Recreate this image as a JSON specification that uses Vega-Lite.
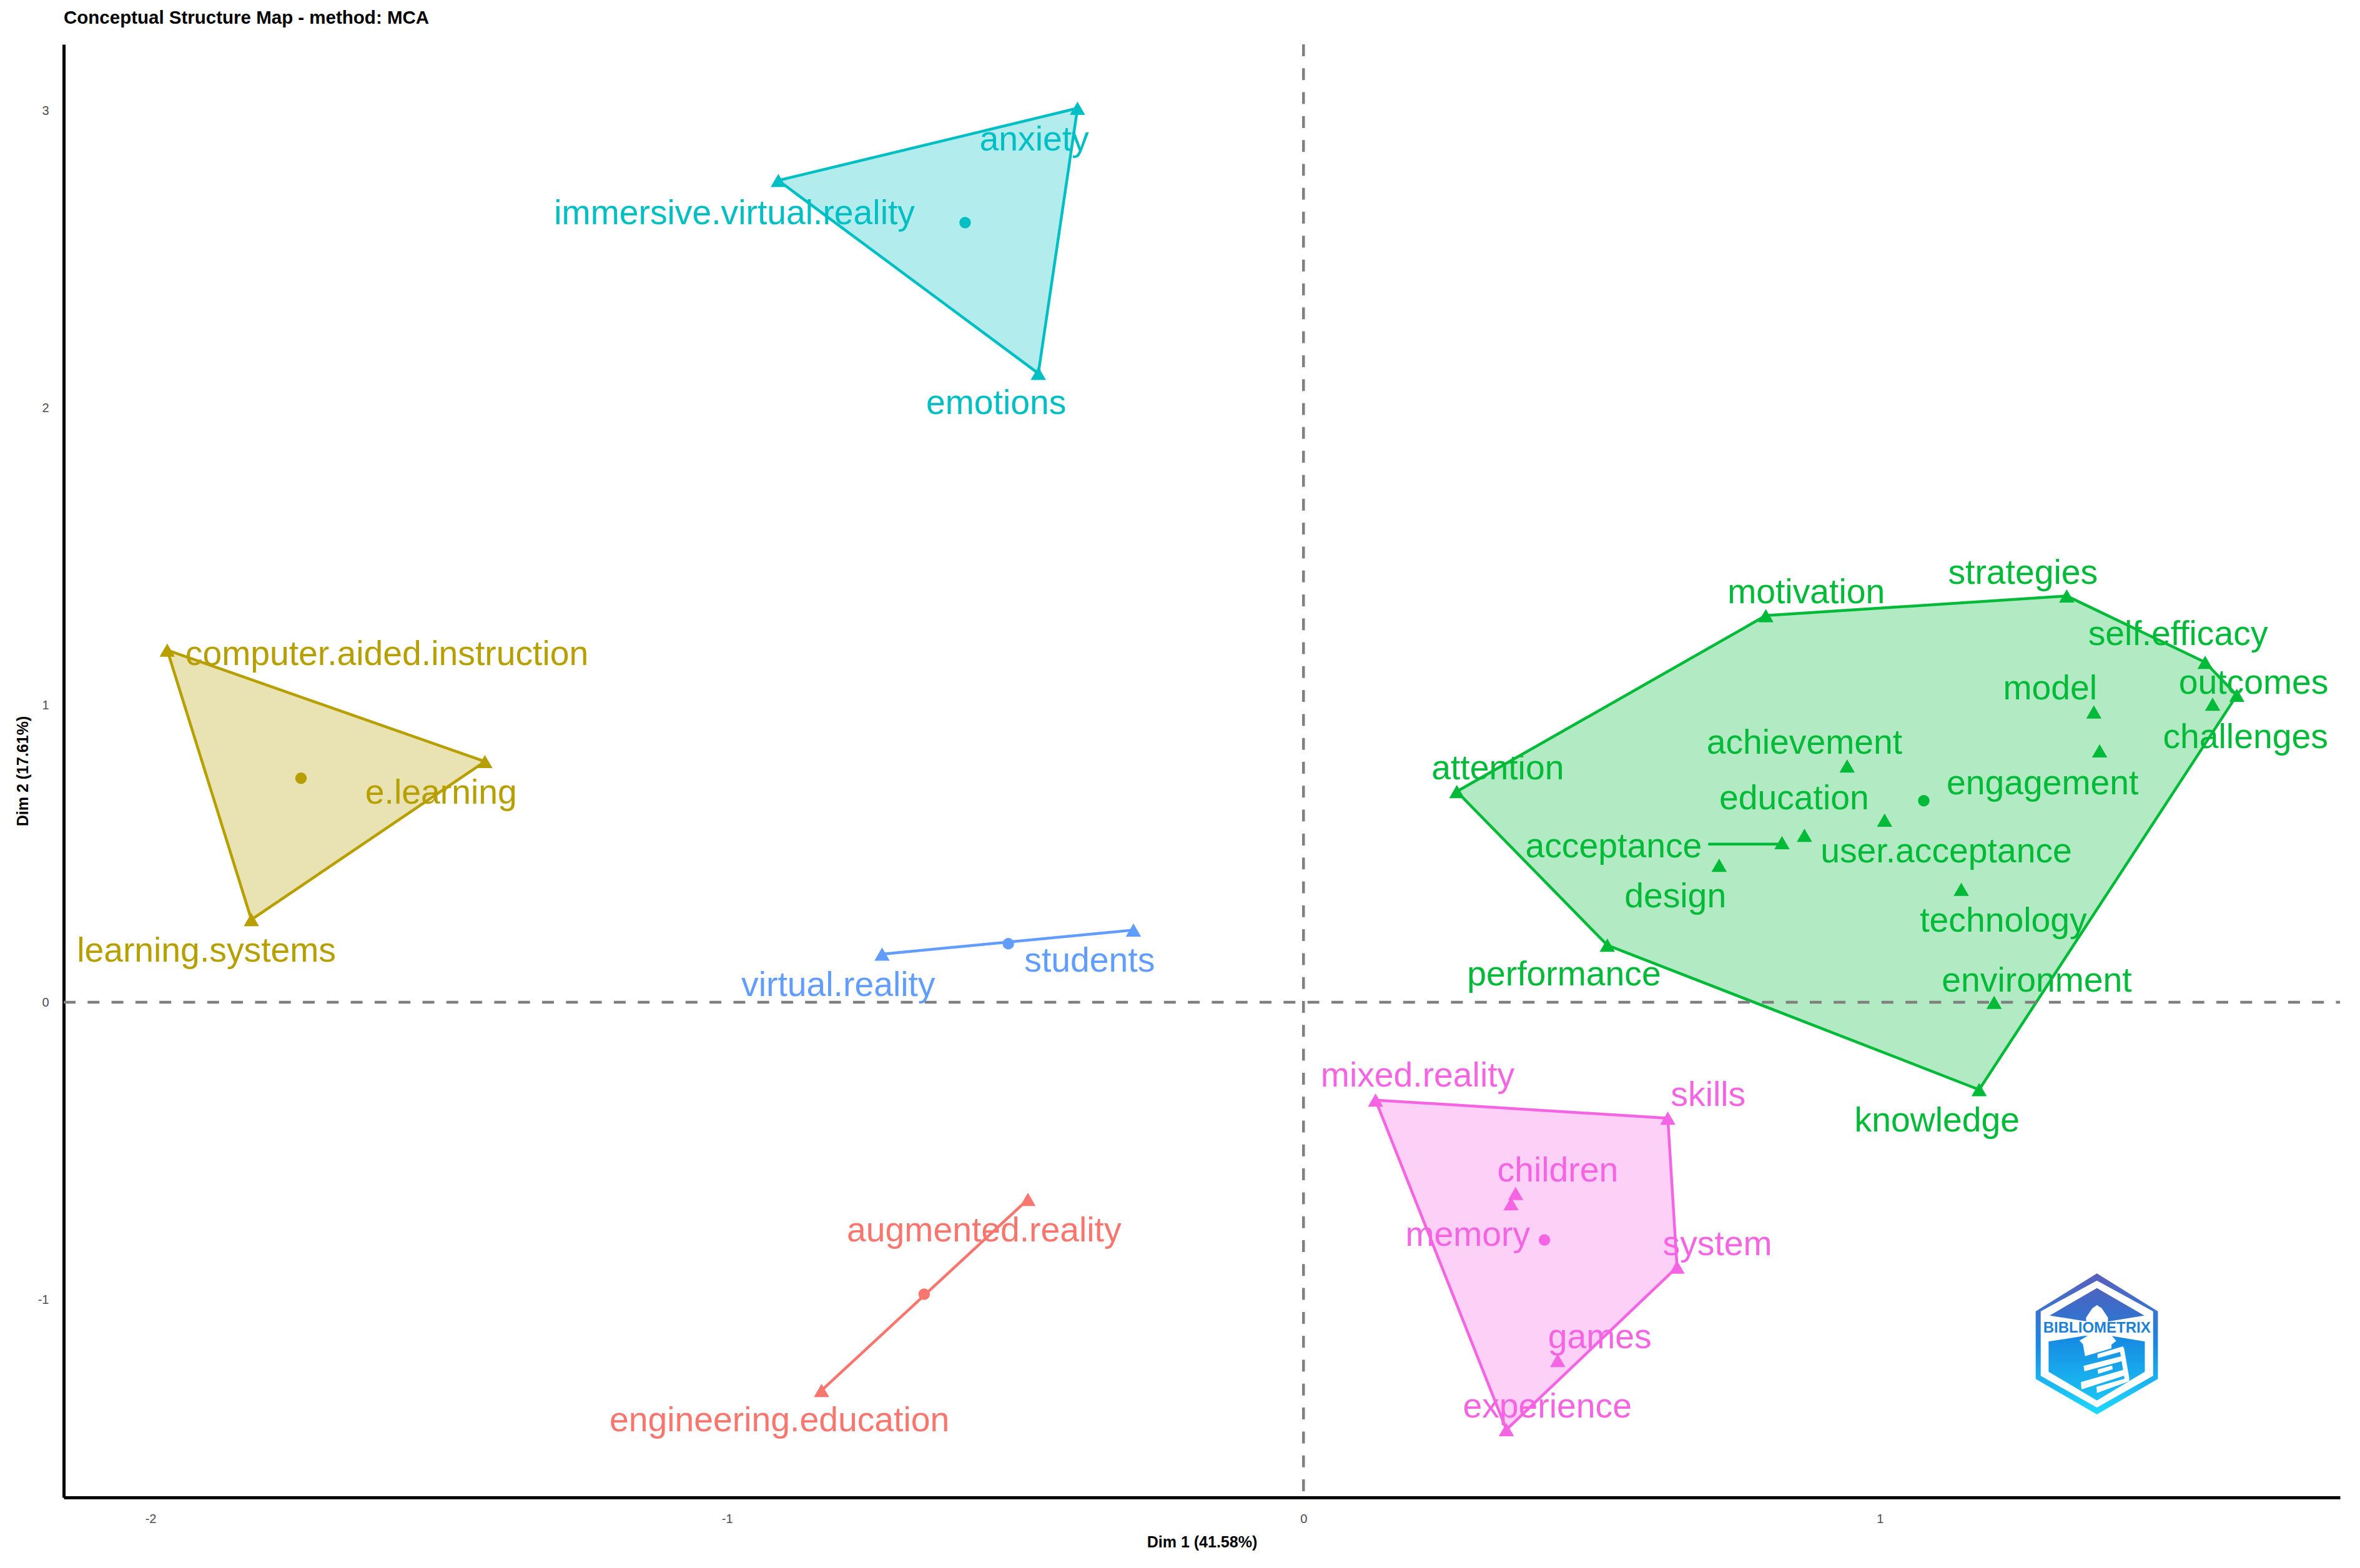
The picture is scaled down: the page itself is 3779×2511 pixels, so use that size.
{
  "$schema": "https://vega.github.io/schema/vega-lite/v6.json",
  "width": 3645,
  "height": 2327,
  "autosize": {"type": "none"},
  "padding": {"left": 102, "top": 71, "right": 32, "bottom": 113},
  "background": "white",
  "title": {
    "text": "Conceptual Structure Map - method: MCA",
    "anchor": "start",
    "frame": "group",
    "font": "Liberation Sans",
    "fontSize": 29.5,
    "fontWeight": "bold",
    "color": "black",
    "offset": 24
  },
  "config": {
    "view": {"stroke": null},
    "axis": {
      "grid": false,
      "ticks": false,
      "domainColor": "black",
      "domainWidth": 5,
      "labelColor": "#4d4d4d",
      "labelFont": "Liberation Sans",
      "labelFontSize": 20,
      "titleFont": "Liberation Sans",
      "titleFontSize": 25,
      "titleFontWeight": "bold",
      "titleColor": "black"
    }
  },
  "datasets": {
    "terms": [
      {"term": "anxiety", "group": "cyan", "x": -0.392, "y": 3.008, "label_x": -0.467, "label_y": 2.906},
      {"term": "immersive.virtual.reality", "group": "cyan", "x": -0.911, "y": 2.765, "label_x": -0.987, "label_y": 2.658},
      {"term": "emotions", "group": "cyan", "x": -0.46, "y": 2.116, "label_x": -0.533, "label_y": 2.02},
      {"term": "computer.aided.instruction", "group": "olive", "x": -1.971, "y": 1.185, "label_x": -1.59, "label_y": 1.175},
      {"term": "e.learning", "group": "olive", "x": -1.42, "y": 0.81, "label_x": -1.496, "label_y": 0.709},
      {"term": "learning.systems", "group": "olive", "x": -1.825, "y": 0.278, "label_x": -1.903, "label_y": 0.177},
      {"term": "virtual.reality", "group": "blue", "x": -0.731, "y": 0.162, "label_x": -0.807, "label_y": 0.061},
      {"term": "students", "group": "blue", "x": -0.295, "y": 0.243, "label_x": -0.371, "label_y": 0.142},
      {"term": "augmented.reality", "group": "red", "x": -0.478, "y": -0.663, "label_x": -0.554, "label_y": -0.765},
      {"term": "engineering.education", "group": "red", "x": -0.836, "y": -1.306, "label_x": -0.909, "label_y": -1.403},
      {"term": "mixed.reality", "group": "pink", "x": 0.125, "y": -0.329, "label_x": 0.198, "label_y": -0.243},
      {"term": "skills", "group": "pink", "x": 0.632, "y": -0.39, "label_x": 0.702, "label_y": -0.309},
      {"term": "children", "group": "pink", "x": 0.368, "y": -0.643, "label_x": 0.441, "label_y": -0.562},
      {"term": "memory", "group": "pink", "x": 0.36, "y": -0.678, "label_x": 0.285, "label_y": -0.78},
      {"term": "system", "group": "pink", "x": 0.648, "y": -0.891, "label_x": 0.718, "label_y": -0.81},
      {"term": "games", "group": "pink", "x": 0.441, "y": -1.205, "label_x": 0.514, "label_y": -1.124},
      {"term": "experience", "group": "pink", "x": 0.352, "y": -1.438, "label_x": 0.423, "label_y": -1.357},
      {"term": "attention", "group": "green", "x": 0.266, "y": 0.709, "label_x": 0.337, "label_y": 0.79},
      {"term": "motivation", "group": "green", "x": 0.802, "y": 1.301, "label_x": 0.872, "label_y": 1.382},
      {"term": "strategies", "group": "green", "x": 1.324, "y": 1.367, "label_x": 1.248, "label_y": 1.448},
      {"term": "self.efficacy", "group": "green", "x": 1.564, "y": 1.144, "label_x": 1.517, "label_y": 1.241},
      {"term": "outcomes", "group": "green", "x": 1.619, "y": 1.033, "label_x": 1.648, "label_y": 1.078},
      {"term": "challenges", "group": "green", "x": 1.577, "y": 1.003, "label_x": 1.634, "label_y": 0.896},
      {"term": "model", "group": "green", "x": 1.371, "y": 0.977, "label_x": 1.295, "label_y": 1.058},
      {"term": "engagement", "group": "green", "x": 1.381, "y": 0.846, "label_x": 1.282, "label_y": 0.739},
      {"term": "achievement", "group": "green", "x": 0.943, "y": 0.795, "label_x": 0.869, "label_y": 0.876},
      {"term": "education", "group": "green", "x": 1.008, "y": 0.613, "label_x": 0.851, "label_y": 0.689},
      {"term": "user.acceptance", "group": "green", "x": 0.869, "y": 0.562, "label_x": 1.115, "label_y": 0.511},
      {"term": "acceptance", "group": "green", "x": 0.83, "y": 0.537, "label_x": 0.538, "label_y": 0.527},
      {"term": "design", "group": "green", "x": 0.721, "y": 0.461, "label_x": 0.645, "label_y": 0.359},
      {"term": "technology", "group": "green", "x": 1.141, "y": 0.38, "label_x": 1.214, "label_y": 0.278},
      {"term": "performance", "group": "green", "x": 0.527, "y": 0.192, "label_x": 0.452, "label_y": 0.096},
      {"term": "environment", "group": "green", "x": 1.198, "y": 0, "label_x": 1.272, "label_y": 0.076},
      {"term": "knowledge", "group": "green", "x": 1.172, "y": -0.294, "label_x": 1.099, "label_y": -0.395}
    ],
    "centroids": [
      {"group": "cyan", "x": -0.587, "y": 2.623},
      {"group": "olive", "x": -1.739, "y": 0.754},
      {"group": "blue", "x": -0.512, "y": 0.197},
      {"group": "red", "x": -0.658, "y": -0.982},
      {"group": "pink", "x": 0.418, "y": -0.8},
      {"group": "green", "x": 1.076, "y": 0.678}
    ],
    "hulls": [
      {"group": "cyan", "step": 1, "x": -0.911, "y": 2.765},
      {"group": "cyan", "step": 2, "x": -0.392, "y": 3.008},
      {"group": "cyan", "step": 3, "x": -0.46, "y": 2.116},
      {"group": "cyan", "step": 4, "x": -0.911, "y": 2.765},
      {"group": "olive", "step": 1, "x": -1.971, "y": 1.185},
      {"group": "olive", "step": 2, "x": -1.42, "y": 0.81},
      {"group": "olive", "step": 3, "x": -1.825, "y": 0.278},
      {"group": "olive", "step": 4, "x": -1.971, "y": 1.185},
      {"group": "blue", "step": 1, "x": -0.731, "y": 0.162},
      {"group": "blue", "step": 2, "x": -0.295, "y": 0.243},
      {"group": "red", "step": 1, "x": -0.478, "y": -0.663},
      {"group": "red", "step": 2, "x": -0.836, "y": -1.306},
      {"group": "pink", "step": 1, "x": 0.125, "y": -0.329},
      {"group": "pink", "step": 2, "x": 0.632, "y": -0.39},
      {"group": "pink", "step": 3, "x": 0.648, "y": -0.891},
      {"group": "pink", "step": 4, "x": 0.352, "y": -1.438},
      {"group": "pink", "step": 5, "x": 0.125, "y": -0.329},
      {"group": "green", "step": 1, "x": 0.266, "y": 0.709},
      {"group": "green", "step": 2, "x": 0.802, "y": 1.301},
      {"group": "green", "step": 3, "x": 1.324, "y": 1.367},
      {"group": "green", "step": 4, "x": 1.564, "y": 1.144},
      {"group": "green", "step": 5, "x": 1.619, "y": 1.033},
      {"group": "green", "step": 6, "x": 1.172, "y": -0.294},
      {"group": "green", "step": 7, "x": 0.527, "y": 0.192},
      {"group": "green", "step": 8, "x": 0.266, "y": 0.709}
    ],
    "logo_outer": [
      {"step": 1, "x": 1.3763, "y": -0.9125},
      {"step": 2, "x": 1.4821, "y": -1.0399},
      {"step": 3, "x": 1.4821, "y": -1.2675},
      {"step": 4, "x": 1.3763, "y": -1.3866},
      {"step": 5, "x": 1.2701, "y": -1.2675},
      {"step": 6, "x": 1.2701, "y": -1.0399}
    ],
    "logo_white": [
      {"step": 1, "x": 1.3763, "y": -0.9363},
      {"step": 2, "x": 1.4738, "y": -1.0399},
      {"step": 3, "x": 1.4738, "y": -1.257},
      {"step": 4, "x": 1.3763, "y": -1.3634},
      {"step": 5, "x": 1.2788, "y": -1.257},
      {"step": 6, "x": 1.2788, "y": -1.0399}
    ],
    "logo_top": [
      {"step": 1, "x": 1.3763, "y": -0.9615},
      {"step": 2, "x": 1.4586, "y": -1.0539},
      {"step": 3, "x": 1.3973, "y": -1.0735},
      {"step": 4, "x": 1.3575, "y": -1.0735},
      {"step": 5, "x": 1.2943, "y": -1.0539}
    ],
    "logo_bottom": [
      {"step": 1, "x": 1.2925, "y": -1.1415},
      {"step": 2, "x": 1.3539, "y": -1.1225},
      {"step": 3, "x": 1.4009, "y": -1.1225},
      {"step": 4, "x": 1.4594, "y": -1.1415},
      {"step": 5, "x": 1.4594, "y": -1.243},
      {"step": 6, "x": 1.3763, "y": -1.3396},
      {"step": 7, "x": 1.2925, "y": -1.243}
    ],
    "logo_tower": [
      {"part": "dome", "step": 1, "x": 1.3763, "y": -1.0189},
      {"part": "dome", "step": 2, "x": 1.3846, "y": -1.0294},
      {"part": "dome", "step": 3, "x": 1.3955, "y": -1.0609},
      {"part": "dome", "step": 4, "x": 1.3955, "y": -1.0784},
      {"part": "dome", "step": 5, "x": 1.3575, "y": -1.0784},
      {"part": "dome", "step": 6, "x": 1.3575, "y": -1.0609},
      {"part": "dome", "step": 7, "x": 1.3684, "y": -1.0294},
      {"part": "cap", "step": 1, "x": 1.346, "y": -1.138},
      {"part": "cap", "step": 2, "x": 1.3666, "y": -1.1155},
      {"part": "cap", "step": 3, "x": 1.3991, "y": -1.1155},
      {"part": "cap", "step": 4, "x": 1.4099, "y": -1.1394},
      {"part": "cap", "step": 5, "x": 1.4016, "y": -1.152},
      {"part": "cap", "step": 6, "x": 1.4016, "y": -1.1646},
      {"part": "cap", "step": 7, "x": 1.3557, "y": -1.1905},
      {"part": "cap", "step": 8, "x": 1.3521, "y": -1.1506},
      {"part": "bar1", "step": 1, "x": 1.3774, "y": -1.1835},
      {"part": "bar1", "step": 2, "x": 1.4218, "y": -1.1576},
      {"part": "bar1", "step": 3, "x": 1.4232, "y": -1.173},
      {"part": "bar1", "step": 4, "x": 1.3774, "y": -1.1975},
      {"part": "rail", "step": 1, "x": 1.4153, "y": -1.1625},
      {"part": "rail", "step": 2, "x": 1.4232, "y": -1.1625},
      {"part": "rail", "step": 3, "x": 1.4327, "y": -1.2675},
      {"part": "rail", "step": 4, "x": 1.4243, "y": -1.2675},
      {"part": "bar2", "step": 1, "x": 1.3532, "y": -1.2234},
      {"part": "bar2", "step": 2, "x": 1.4197, "y": -1.1905},
      {"part": "bar2", "step": 3, "x": 1.4218, "y": -1.2066},
      {"part": "bar2", "step": 4, "x": 1.3547, "y": -1.2416},
      {"part": "bar3", "step": 1, "x": 1.3774, "y": -1.236},
      {"part": "bar3", "step": 2, "x": 1.4027, "y": -1.222},
      {"part": "bar3", "step": 3, "x": 1.4038, "y": -1.2346},
      {"part": "bar3", "step": 4, "x": 1.3785, "y": -1.25},
      {"part": "bar4", "step": 1, "x": 1.3485, "y": -1.278},
      {"part": "bar4", "step": 2, "x": 1.4261, "y": -1.2346},
      {"part": "bar4", "step": 3, "x": 1.4279, "y": -1.2535},
      {"part": "bar4", "step": 4, "x": 1.3496, "y": -1.3025},
      {"part": "bar5", "step": 1, "x": 1.3756, "y": -1.2934},
      {"part": "bar5", "step": 2, "x": 1.4316, "y": -1.2626},
      {"part": "bar5", "step": 3, "x": 1.4327, "y": -1.2745},
      {"part": "bar5", "step": 4, "x": 1.3763, "y": -1.3144}
    ]
  },
  "encoding": {
    "x": {
      "field": "x",
      "type": "quantitative",
      "title": "Dim 1 (41.58%)",
      "scale": {"domain": [-2.1506, 1.798], "nice": false, "zero": false},
      "axis": {"values": [-2, -1, 0, 1], "labelPadding": 24, "titlePadding": 15, "labelExpr": "datum.value"}
    },
    "y": {
      "field": "y",
      "type": "quantitative",
      "title": "Dim 2 (17.61%)",
      "scale": {"domain": [-1.666, 3.223], "nice": false, "zero": false},
      "axis": {"values": [-1, 0, 1, 2, 3], "labelPadding": 24, "titlePadding": 11, "labelExpr": "datum.value"}
    }
  },
  "layer": [
    {
      "data": {"name": "hulls"},
      "mark": {"type": "line", "strokeWidth": 4.5},
      "encoding": {
        "order": {"field": "step", "type": "ordinal"},
        "color": {
          "field": "group",
          "type": "nominal",
          "legend": null,
          "scale": {
            "domain": ["red", "olive", "green", "cyan", "blue", "pink"],
            "range": ["#F8766D", "#B79F00", "#00BA38", "#00BFC4", "#619CFF", "#F564E3"]
          }
        },
        "fill": {
          "field": "group",
          "type": "nominal",
          "legend": null,
          "scale": {
            "domain": ["red", "olive", "green", "cyan", "blue", "pink"],
            "range": ["#F8766D", "#B79F00", "#00BA38", "#00BFC4", "#619CFF", "#F564E3"]
          }
        },
        "fillOpacity": {"value": 0.3}
      }
    },
    {
      "data": {"values": [{"zero": 0}]},
      "mark": {"type": "rule", "color": "#808080", "strokeWidth": 4.5, "strokeDash": [19, 19.3], "strokeDashOffset": 12.5},
      "encoding": {"y": {"field": "zero", "type": "quantitative"}, "x": null}
    },
    {
      "data": {"values": [{"zero": 0}]},
      "mark": {"type": "rule", "color": "#808080", "strokeWidth": 4.5, "strokeDash": [19, 19.3]},
      "encoding": {"x": {"field": "zero", "type": "quantitative"}, "y": null}
    },
    {
      "data": {"name": "terms"},
      "mark": {"type": "point", "shape": "triangle-up", "filled": true, "size": 600, "opacity": 1},
      "encoding": {
        "color": {
          "field": "group",
          "type": "nominal",
          "legend": null,
          "scale": {
            "domain": ["red", "olive", "green", "cyan", "blue", "pink"],
            "range": ["#F8766D", "#B79F00", "#00BA38", "#00BFC4", "#619CFF", "#F564E3"]
          }
        }
      }
    },
    {
      "data": {"name": "centroids"},
      "mark": {"type": "circle", "size": 340, "opacity": 1},
      "encoding": {
        "color": {
          "field": "group",
          "type": "nominal",
          "legend": null,
          "scale": {
            "domain": ["red", "olive", "green", "cyan", "blue", "pink"],
            "range": ["#F8766D", "#B79F00", "#00BA38", "#00BFC4", "#619CFF", "#F564E3"]
          }
        }
      }
    },
    {
      "data": {"values": [{"x": 0.702, "x_end": 0.83, "y": 0.532}]},
      "mark": {"type": "rule", "color": "#00BA38", "strokeWidth": 4.5},
      "encoding": {"x2": {"field": "x_end"}}
    },
    {
      "data": {"name": "terms"},
      "mark": {"type": "text", "font": "Liberation Sans", "fontSize": 55.3, "align": "center", "baseline": "middle", "dy": 2},
      "encoding": {
        "x": {"field": "label_x", "type": "quantitative"},
        "y": {"field": "label_y", "type": "quantitative"},
        "text": {"field": "term", "type": "nominal"},
        "color": {
          "field": "group",
          "type": "nominal",
          "legend": null,
          "scale": {
            "domain": ["red", "olive", "green", "cyan", "blue", "pink"],
            "range": ["#F8766D", "#B79F00", "#00BA38", "#00BFC4", "#619CFF", "#F564E3"]
          }
        }
      }
    },
    {
      "data": {"name": "logo_outer"},
      "mark": {
        "type": "line",
        "strokeWidth": 0,
        "fill": {
          "gradient": "linear", "x1": 0, "y1": 0, "x2": 0, "y2": 1,
          "stops": [{"offset": 0, "color": "#5A5FBC"}, {"offset": 0.5, "color": "#1C86E0"}, {"offset": 1, "color": "#1DDCFF"}]
        }
      },
      "encoding": {"order": {"field": "step", "type": "ordinal"}}
    },
    {
      "data": {"name": "logo_white"},
      "mark": {"type": "line", "strokeWidth": 0, "fill": "white"},
      "encoding": {"order": {"field": "step", "type": "ordinal"}}
    },
    {
      "data": {"name": "logo_top"},
      "mark": {
        "type": "line",
        "strokeWidth": 0,
        "fill": {
          "gradient": "linear", "x1": 0, "y1": 0, "x2": 0, "y2": 1,
          "stops": [{"offset": 0, "color": "#4E63BE"}, {"offset": 1, "color": "#2F74D0"}]
        }
      },
      "encoding": {"order": {"field": "step", "type": "ordinal"}}
    },
    {
      "data": {"name": "logo_bottom"},
      "mark": {
        "type": "line",
        "strokeWidth": 0,
        "fill": {
          "gradient": "linear", "x1": 0, "y1": 0, "x2": 0, "y2": 1,
          "stops": [{"offset": 0, "color": "#1688E2"}, {"offset": 1, "color": "#19C4F4"}]
        }
      },
      "encoding": {"order": {"field": "step", "type": "ordinal"}}
    },
    {
      "data": {"name": "logo_tower"},
      "mark": {"type": "line", "strokeWidth": 0, "fill": "white"},
      "encoding": {"order": {"field": "step", "type": "ordinal"}, "detail": {"field": "part"}}
    },
    {
      "data": {"values": [{"word": "BIBLIOMETRIX", "x": 1.3763, "y": -1.0975}]},
      "mark": {"type": "text", "font": "Liberation Sans", "fontSize": 24, "fontWeight": "bold", "color": "#1E7FDB", "align": "center", "baseline": "middle"},
      "encoding": {"text": {"field": "word"}}
    }
  ]
}
